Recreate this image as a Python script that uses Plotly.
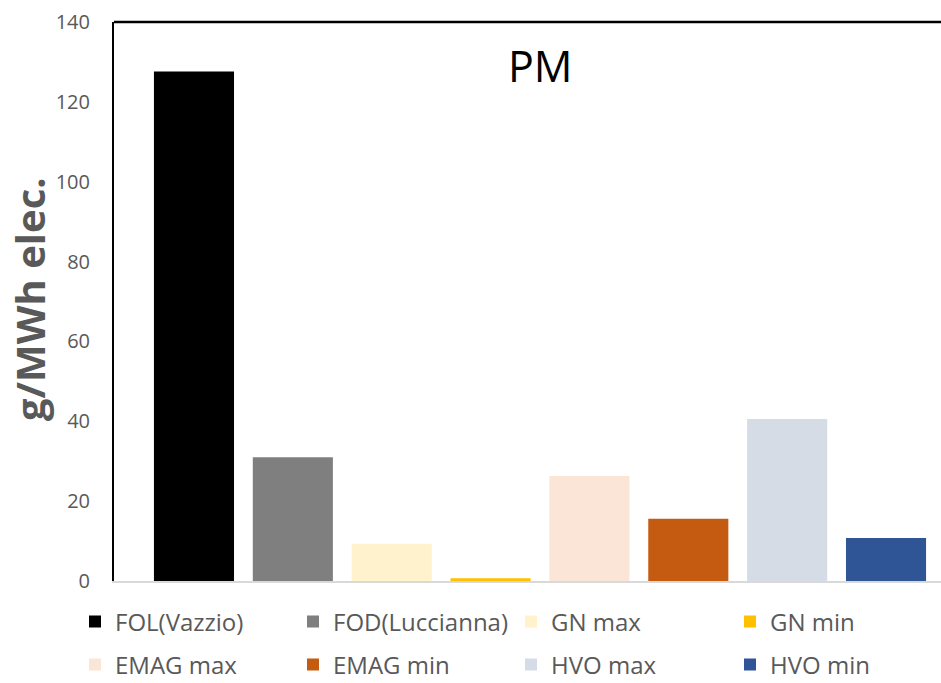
import plotly.graph_objects as go

series_names = ["FOL(Vazzio)", "FOD(Luccianna)", "GN max", "GN min",
                "EMAG max", "EMAG min", "HVO max", "HVO min"]
series_values = [127.6, 31.0, 9.3, 0.7, 26.3, 15.6, 40.6, 10.8]
series_colors = ["#000000", "#7f7f7f", "#fff2cc", "#ffc000",
                 "#fbe5d6", "#c55a11", "#d6dce5", "#2f5597"]
category = ["PM"]
y_ticks = [0, 20, 40, 60, 80, 100, 120, 140]

FONT = "Open Sans"
GRAY = "#595959"

W, H = 941, 683
PL, PT, PR, PB = 114, 22, 941, 581          # plot area in pixels
L, T, R, B = PL, PT, W - PR, H - PB
pw = PR - PL
ph = PB - PT


def px(xp):
    return (xp - PL) / pw


def py(yp):
    return (PB - yp) / ph


fig = go.Figure()
legend_layouts = {}
col_left = [75, 293, 511, 730]
row_center = [622, 665]
for i, (name, val, col) in enumerate(zip(series_names, series_values, series_colors)):
    key = "legend" if i == 0 else f"legend{i + 1}"
    fig.add_trace(go.Bar(
        x=category, y=[val], name=name,
        marker=dict(color=col, line=dict(width=0)),
        legend=key, showlegend=True,
    ))
    r, c = divmod(i, 4)
    legend_layouts[key] = dict(
        orientation="v", x=px(col_left[c]), xanchor="left",
        y=py(row_center[r]), yanchor="middle",
        font=dict(size=24, color=GRAY, family=FONT),
        itemwidth=30, bgcolor="rgba(0,0,0,0)",
    )

fig.update_layout(
    width=W, height=H, showlegend=True,
    margin=dict(l=L, r=R, t=T, b=B, autoexpand=False),
    paper_bgcolor="white", plot_bgcolor="white",
    barmode="group", bargap=0.0717, bargroupgap=0.19,
    font=dict(family=FONT, color=GRAY),
    xaxis=dict(range=[-0.5, -0.5 + pw / 852], showticklabels=False,
               showline=True, linecolor="#d9d9d9", linewidth=2,
               showgrid=False, zeroline=False, ticks=""),
    yaxis=dict(range=[0, 140], tickvals=y_ticks, showgrid=False,
               zeroline=False, showline=True, linecolor="black", linewidth=2,
               ticks="", ticklabelstandoff=18,
               tickfont=dict(size=20, color=GRAY, family=FONT)),
    shapes=[dict(type="line", xref="paper", yref="paper", x0=0, x1=1,
                 y0=1, y1=1, line=dict(color="black", width=2.5))],
    annotations=[
        dict(text="PM", xref="paper", yref="paper", x=px(540),
             y=py(66), showarrow=False, xanchor="center",
             yanchor="middle", font=dict(size=43, color="black", family=FONT)),
        dict(text="<b>g/MWh elec.</b>", xref="paper", yref="paper",
             x=px(29), y=py(299), textangle=-90,
             showarrow=False, xanchor="center", yanchor="middle",
             font=dict(size=40, color=GRAY, family=FONT)),
    ],
    **legend_layouts,
)

fig.write_html(
    "out.html",
    config={"displayModeBar": False},
    post_script="document.body.style.margin='0px';"
                "document.body.style.overflow='hidden';",
)
